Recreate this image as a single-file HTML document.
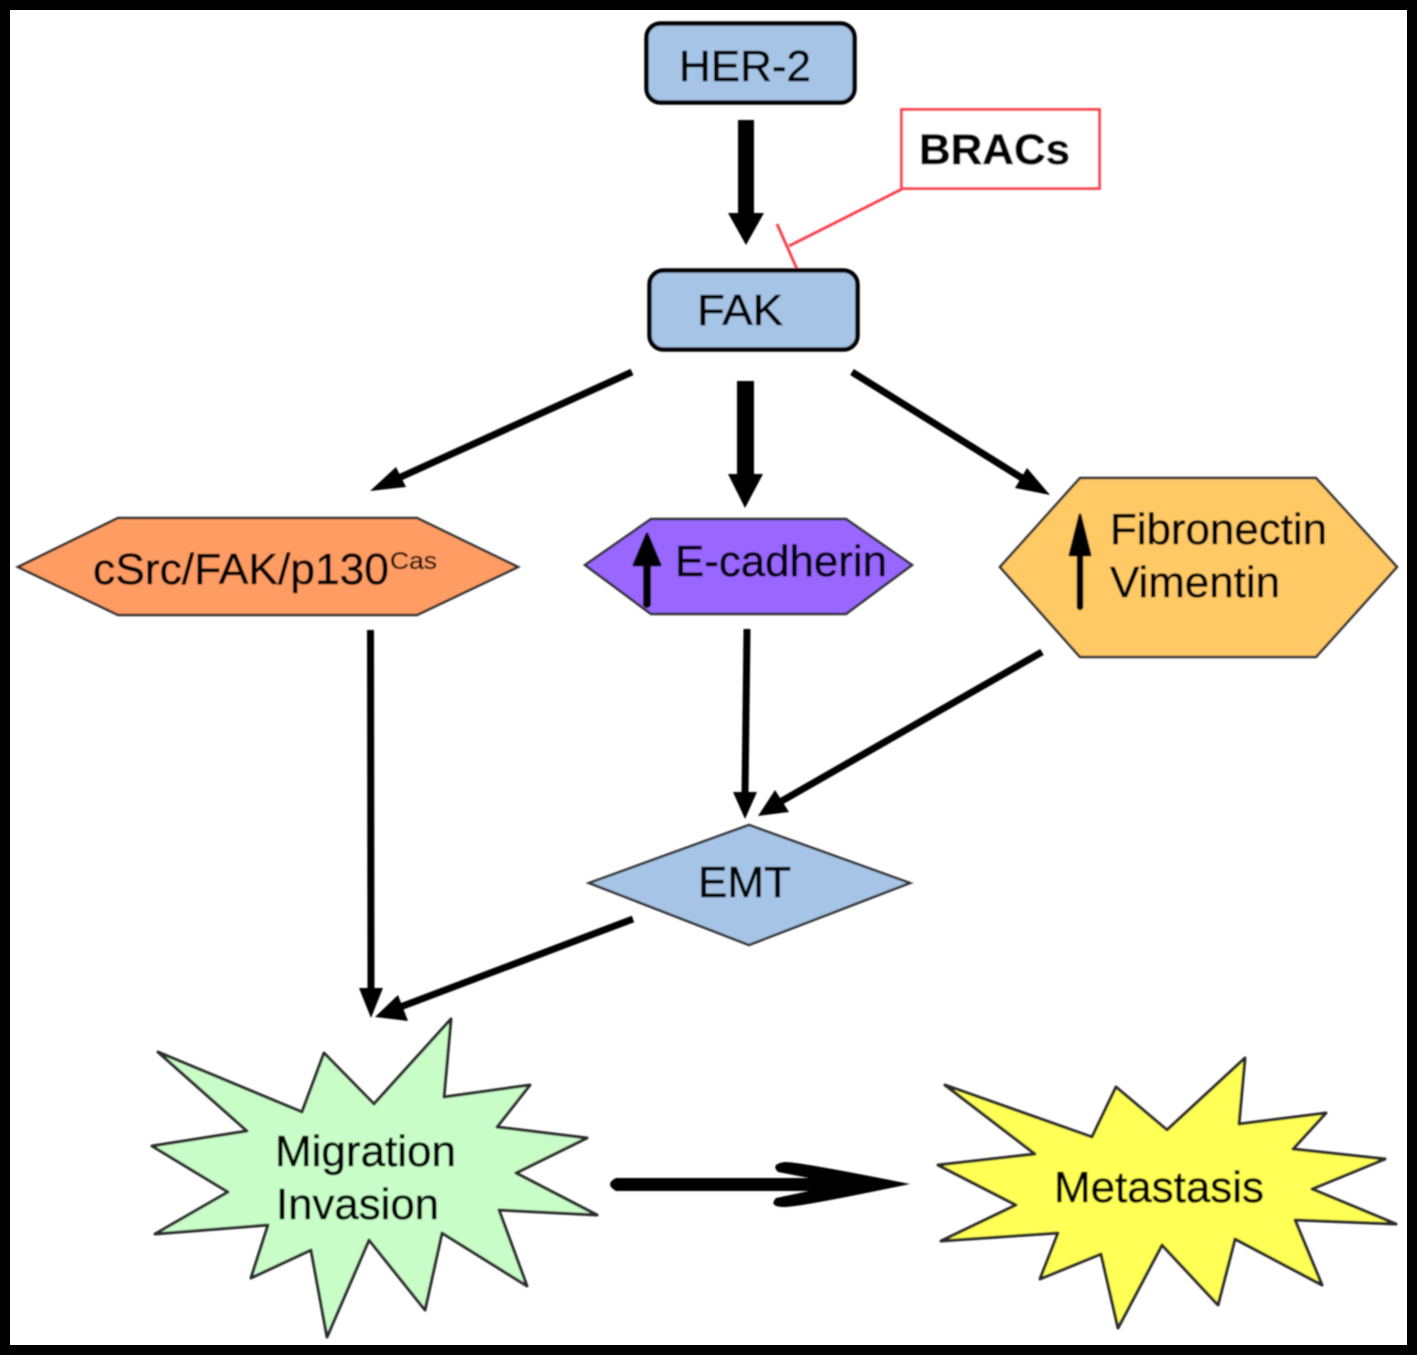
<!DOCTYPE html>
<html>
<head>
<meta charset="utf-8">
<style>
html,body{margin:0;padding:0;background:#000;}
svg{display:block;}
text{font-family:"Liberation Sans",sans-serif;fill:#050505;stroke:#050505;stroke-width:0.6px;}
</style>
</head>
<body>
<svg width="1417" height="1355" viewBox="0 0 1417 1355" xmlns="http://www.w3.org/2000/svg">
<defs><filter id="b" filterUnits="userSpaceOnUse" x="0" y="0" width="1417" height="1355"><feGaussianBlur stdDeviation="0.7"/></filter></defs>
<rect width="1417" height="1355" fill="#000"/>
<rect x="10" y="10" width="1397" height="1335" fill="#fff"/>
<g filter="url(#b)">

<rect x="646.500" y="23.500" width="208" height="79" rx="14" fill="#a6c4e6" stroke="#050505" stroke-width="4.500"/>
<text x="679" y="81" font-size="44" textLength="132" lengthAdjust="spacingAndGlyphs">HER-2</text>

<polygon points="738,120 754,120 754,213 764,213 746,245 728,213 738,213" fill="#000"/>

<rect x="901.500" y="109.500" width="198" height="79" fill="#fff" stroke="#f9404a" stroke-width="2.800"/>
<text x="919" y="164" font-size="43" font-weight="bold" textLength="151" lengthAdjust="spacingAndGlyphs">BRACs</text>
<line x1="902" y1="189" x2="789" y2="246" stroke="#f9404a" stroke-width="2.800"/>
<line x1="777" y1="224" x2="797" y2="269" stroke="#f9404a" stroke-width="2.800"/>

<rect x="649.500" y="270.500" width="208" height="79" rx="14" fill="#a6c4e6" stroke="#050505" stroke-width="4.500"/>
<text x="697" y="325" font-size="44" textLength="86" lengthAdjust="spacingAndGlyphs">FAK</text>

<line x1="632" y1="372" x2="392" y2="481" stroke="#000" stroke-width="7"/>
<polygon points="370,491 396,467 406,487" fill="#000"/>
<polygon points="737,381 754,381 754,474 763,474 745,508 728,474 737,474" fill="#000"/>
<line x1="852" y1="372" x2="1030" y2="483" stroke="#000" stroke-width="7"/>
<polygon points="1050,495 1015,488 1027,468" fill="#000"/>

<polygon points="18,567 118,518 417,518 518,567 417,615 118,615" fill="#ff9c63" stroke="#333" stroke-width="2.500"/>
<text x="93" y="584" font-size="44" textLength="296" lengthAdjust="spacingAndGlyphs">cSrc/FAK/p130</text>
<text x="390" y="569" font-size="24" textLength="47" lengthAdjust="spacingAndGlyphs" style="stroke-width:0.3px">Cas</text>

<polygon points="585,565 651,519 846,519 912,565 846,614 651,614" fill="#9966ff" stroke="#333" stroke-width="2.500"/>
<line x1="647" y1="560" x2="647" y2="604" stroke="#000" stroke-width="8" stroke-linecap="round"/>
<path d="M647,534 L660,565 L634,565 Z" fill="#000" stroke="#000" stroke-width="3" stroke-linejoin="round"/>
<text x="675" y="576" font-size="44" textLength="212" lengthAdjust="spacingAndGlyphs">E-cadherin</text>

<polygon points="1000,567 1080,478 1316,478 1397,567 1316,657 1080,657" fill="#ffc966" stroke="#333" stroke-width="2.500"/>
<line x1="1080" y1="550" x2="1080" y2="607" stroke="#000" stroke-width="6.500" stroke-linecap="round"/>
<path d="M1080,515 L1090,555 L1070,555 Z" fill="#000" stroke="#000" stroke-width="3" stroke-linejoin="round"/>
<text x="1110" y="544" font-size="44" textLength="217" lengthAdjust="spacingAndGlyphs">Fibronectin</text>
<text x="1110" y="597" font-size="44" textLength="170" lengthAdjust="spacingAndGlyphs">Vimentin</text>

<line x1="370.500" y1="630" x2="371" y2="990" stroke="#000" stroke-width="7"/>
<polygon points="371,1018 359,988 383,988" fill="#000"/>
<line x1="747" y1="629" x2="745" y2="795" stroke="#000" stroke-width="7"/>
<polygon points="745,819 733,792 757,792" fill="#000"/>
<line x1="1042" y1="652" x2="780" y2="802" stroke="#000" stroke-width="7"/>
<polygon points="758,816 775,790 789,812" fill="#000"/>

<polygon points="589,883 749,825 910,883 749,945" fill="#a6c4e6" stroke="#333" stroke-width="2.500"/>
<text x="698" y="897" font-size="44" textLength="93" lengthAdjust="spacingAndGlyphs">EMT</text>

<line x1="633" y1="919" x2="395" y2="1009" stroke="#000" stroke-width="7"/>
<polygon points="375,1017 398,995 408,1021" fill="#000"/>

<polygon points="158,1052 302,1112 324,1053 374,1104 451,1019 444,1097 530,1085 497,1127 587,1138 516,1173 597,1215 499,1210 527,1286 442,1233 425,1310 369,1240 327,1337 311,1250 251,1278 268,1225 155,1234 228,1192 152,1146 247,1131" fill="#c8fdc8" stroke="#2a2a2a" stroke-width="3" stroke-linejoin="round"/>
<text x="275" y="1166" font-size="44" textLength="181" lengthAdjust="spacingAndGlyphs">Migration</text>
<text x="276" y="1219" font-size="44" textLength="163" lengthAdjust="spacingAndGlyphs">Invasion</text>

<path d="M616,1178 L809,1178 L778,1172 Q770,1164 785,1162 Q800,1162 910,1184 Q800,1207 785,1207 Q768,1207 776,1198 L809,1191 L616,1191 Q604,1184 616,1178 Z" fill="#000"/>

<polygon points="945,1085 1092,1137 1116,1087 1167,1130 1245,1058 1239,1124 1326,1113 1293,1149 1385,1159 1312,1189 1396,1224 1295,1220 1322,1285 1235,1239 1218,1305 1162,1245 1118,1328 1101,1254 1040,1279 1058,1233 941,1241 1016,1205 938,1165 1035,1154" fill="#ffff55" stroke="#2a2a2a" stroke-width="3" stroke-linejoin="round"/>
<text x="1054" y="1202" font-size="44" textLength="210" lengthAdjust="spacingAndGlyphs">Metastasis</text>
</g>
</svg>
</body>
</html>
